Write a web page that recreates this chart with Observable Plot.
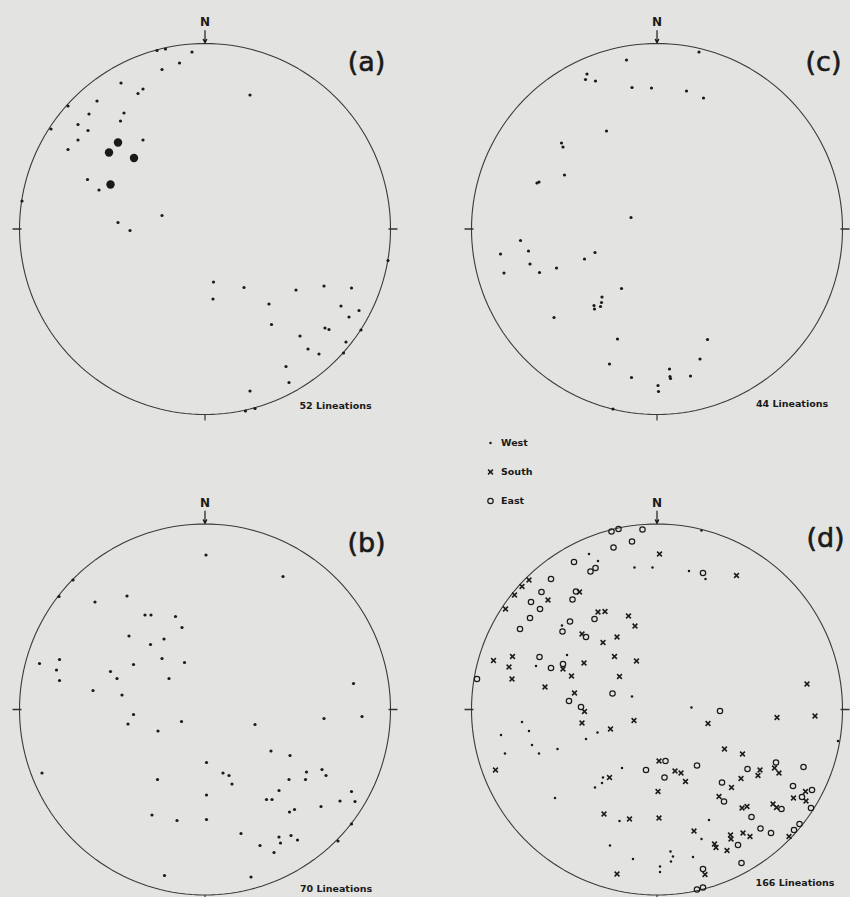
<!DOCTYPE html>
<html><head><meta charset="utf-8">
<script src="https://cdn.jsdelivr.net/npm/d3@7"></script>
<script src="https://cdn.jsdelivr.net/npm/@observablehq/plot@0.6"></script>
<style>html,body{margin:0;padding:0;background:#e3e3e1;overflow:hidden}svg{display:block}</style>
</head><body><div id="chart"></div><script>
// Stereonet coordinates: offsets from the net centre, primitive circle radius = 185.5 units
const NET_R = 185.5;

const panelLabels = ["(a)", "(b)", "(c)", "(d)"];
const lineationCounts = ["52 Lineations", "70 Lineations", "44 Lineations", "166 Lineations"];
const legendNames = ["West", "South", "East"];

// (a) 52 lineations: small points and large (multiple) points
const aPoints = [[-48,178.5],[-39.5,180],[-13,177],[-25.5,166],[-43,159.5],[45,134],[-84,146],[-62,140],[-67,135.5],[-108,128],[-137,123],[-116,115],[-81,116],[-84.5,108],[-127,104.5],[-154,100],[-117,98.5],[-127,89],[-62,89],[-137,79.5],[-117.5,49.5],[-106,39],[-43,13.5],[-87,6.5],[-75,-1.5],[-183,28],
[8.5,-53],[8,-70],[39,-58.5],[91,-61],[119,-57],[146.5,-59],[183,-31.5],[64,-75],[66.5,-95.5],[136,-77],[154,-81.5],[144,-88],[120,-99],[124,-100.5],[156,-101],[95,-107],[141,-113],[103,-120],[114,-125],[138.5,-124],[81,-137.5],[84,-153.5],[45,-162],[40.5,-182],[50,-179.5]];
const aBig = [[-87,86.5],[-96,76.5],[-71,71],[-94.5,44.5]];

// (b) 70 lineations
const bPoints = [[1,154.5],[78,133],[-132,129.5],[-146,113],[-110,107.5],[-78,113.5],[-60,94.5],[-54,94.5],[-29.5,93],[-23,82],[-76,73.5],[-41,70.5],[-54.5,65],[-43,51],[-20.5,47],[-71.5,45],[-165.5,46],[-145.5,50],[-148.5,39.5],[-145.5,29],[-94.5,38],[-88,31],[-36,31],[148.5,26],[-112,19],[-83,14.5],
[-71.5,-5],[-77,-14.5],[-47,-21.5],[-23.5,-12],[50,-15],[119,-9],[157,-7],[-163,-63.5],[-47.5,-70],[1.5,-53],[18,-63.5],[24,-66],[27,-74.5],[66,-41.5],[85,-46],[101.5,-62.5],[100.5,-70],[117,-60],[121,-66],[84,-70],[74,-81],[61.5,-90],[67,-90],[146.5,-82],[135,-91.5],[150,-92],[116,-97],[1.5,-85.5],[84.5,-102.5],[89.5,-100],[-53,-105.5],[-28,-111],[1.5,-110],[146.5,-114.5],[36,-124],[74,-127.5],[86,-126],[92.5,-130.5],[75.5,-133.5],[55,-136],[69,-143],[133,-131.5],[-40.5,-166],[46,-167.5]];

// (c) 44 lineations
const cPoints = [[42,177],[-30.5,169],[-70,155],[-71.5,149.5],[-61.5,148],[-25,141.5],[-5.5,141],[29.5,138],[46.5,131],[-50.5,98],[-95.5,86],[-94,82],[-92.5,54],[-120,46],[-118,47],[-26,11.5],[-136.5,-11.5],[-156.5,-25],[-128.5,-22],[-127,-35],[-153,-44],[-117.5,-43.5],[-100.5,-39],[-72.5,-30],[-62,-23.5],[-35.5,-59.5],[-55,-68],[-55.5,-73.5],[-63,-76.5],[-62.5,-80],[-56.5,-77.5],[-103,-88.5],[-39.5,-110],[50.5,-110.5],[43,-130],[-47.5,-135],[12.5,-140],[13,-147.5],[13.5,-149.5],[33.5,-147],[-25.5,-148.5],[1,-156.5],[1.5,-162.5],[-44,-180]];

// (d) 166 lineations by area
const dWest = [[-68,155.5],[-59,148.5],[-22.5,142],[-4.5,142],[44.5,179],[32,138.5],[48.5,130.5],[-95,84],[-121,43.5],[-90,54.5],[-25,13],[34.5,2],[-135,-12.5],[-128,-21.5],[-156,-25.5],[-125,-35.5],[-152,-44],[-118,-44],[-99.5,-39.5],[-59.5,-23],[-71,-29.5],[-102,-88.5],[-35,-58.5],[-54,-68],[-55,-73.5],[-62,-78],[-37.5,-111.5],[-47,-136],[-24,-149.5],[3,-157],[3,-162.5],[181,-31.5],[52,-110.5],[44.5,-129.5],[13.5,-142],[16,-147],[14,-152],[36,-147.5]];
const dSouth = [[2.5,155.5],[79.5,134],[-128,129.5],[-135,123],[-142.5,114.5],[-151.5,100.5],[-77.5,117.5],[-109,109.5],[-59,97.5],[-52,98],[-28.5,93.5],[-22,83.5],[-75,75.5],[-40,72.5],[-54,67],[-163.5,49],[-144.5,53],[-148,42.5],[-145,30.5],[-94,40.5],[-73,46.5],[-42.5,53],[-20.5,48.5],[-85.5,33.5],[-37.5,33],[-112,22.5],[-82.5,16.5],[-72.5,-2],[150,25.5],[120,-8],[158,-6.5],[-75,-13.5],[-46.5,-19.5],[-23,-11],[-161.5,-60.5],[-47.5,-68],[-53,-104.5],[-27.5,-109.5],[-40,-164.5],[51,-14],[67.5,-39.5],[85.5,-44.5],[2,-51.5],[18,-61.5],[24,-63.5],[28.5,-72],[103,-60.5],[101,-66],[84,-69],[117.5,-58.5],[122,-63.5],[74.5,-78],[1,-82],[136.5,-88.5],[149,-91.5],[148.5,-82],[62,-87],[85,-98.5],[90,-97],[116,-94.5],[119.5,-98],[2,-108.5],[132,-127],[37,-121.5],[73.5,-125.5],[74,-129.5],[86,-123.5],[93,-127],[57.5,-134.5],[59,-138],[70,-141],[48,-165]];
const dEast = [[-45.5,178],[-38.5,180.5],[-14.5,180],[-25,168],[-43.5,162],[-83,147.5],[-61.5,141.5],[-66.5,138],[-106,130.5],[-115.5,117.5],[-81,118],[-84.5,110],[-126,107.5],[-117,100.5],[-127,91.5],[-62.5,90.5],[-137,80.5],[-87,88],[-94.5,78],[-71,72.5],[-117.5,52.5],[-106,41.5],[-94,45.5],[-180,30.5],[-44.5,16],[-88,8.5],[-76,2.5],[46,136.5],[63,-1.5],[-11,-60.5],[8.5,-51.5],[7.5,-68],[40,-56],[90.5,-59.5],[119,-53],[146.5,-57.5],[65,-73],[136,-76.5],[145,-87.5],[155,-80.5],[67,-92],[124.5,-99.5],[154,-98.5],[94.5,-107.5],[103.5,-119],[114,-123.5],[137,-120.5],[142.5,-114.5],[81,-135.5],[84.5,-153.5],[46,-159.5],[40,-180],[46,-178]];

// ---- layout (not data) ----
const ink = "#1a1a1a";
const panels = [
  {id: "a", col: "L", row: "T", lx: 161.5, ly: 167, cx: 130.5, cy: -177},
  {id: "b", col: "L", row: "B", lx: 161.5, ly: 166.5, cx: 131, cy: -179.5},
  {id: "c", col: "R", row: "T", lx: 166.5, ly: 166.5, cx: 135, cy: -175},
  {id: "d", col: "R", row: "B", lx: 168.5, ly: 171, cx: 138, cy: -173}
];
panels.forEach((p, i) => { p.label = panelLabels[i]; p.count = lineationCounts[i]; });
const P = Object.fromEntries(panels.map(p => [p.id, p]));

const toRows = (arr, id) => arr.map(([x, y]) => ({x, y, col: P[id].col, row: P[id].row}));
const smallPts = [...toRows(aPoints, "a"), ...toRows(bPoints, "b"), ...toRows(cPoints, "c")];
const bigPts = toRows(aBig, "a");
const westPts = toRows(dWest, "d");
const southPts = toRows(dSouth, "d");
const eastPts = toRows(dEast, "d");

// primitive circle outline (geometry)
const outline = panels.flatMap(p => d3.range(0, 361, 2).map(a => ({
  id: p.id, col: p.col, row: p.row,
  x: NET_R * Math.cos(a * Math.PI / 180), y: NET_R * Math.sin(a * Math.PI / 180)
})));

const legendRows = legendNames.map((name, i) => ({name, i, col: "R", row: "T"}));
const fxy = {fx: "col", fy: "row"};
const legY = d => -214 - d.i * 29;

const plot = Plot.plot({
  width: 850, height: 897,
  marginLeft: 19, marginRight: 8, marginTop: 43, marginBottom: 2.5,
  style: {background: "#e3e3e1", fontFamily: "'DejaVu Sans', sans-serif", color: ink, overflow: "visible"},
  x: {domain: [-NET_R, NET_R], axis: null},
  y: {domain: [-NET_R, NET_R], axis: null},
  fx: {domain: ["L", "R"], paddingInner: 0.1792, paddingOuter: 0, round: false, axis: null},
  fy: {domain: ["T", "B"], paddingInner: 0.2279, paddingOuter: 0, round: false, axis: null},
  marks: [
    Plot.line(outline, {x: "x", y: "y", z: "id", ...fxy, stroke: "#3a3a3a", strokeWidth: 1.1}),
    // E, W, S ticks and N arrow
    Plot.link(panels, {x1: NET_R - 2, x2: NET_R + 7, y1: 0, y2: 0, ...fxy, stroke: "#333", strokeWidth: 1.5}),
    Plot.link(panels, {x1: -NET_R + 2, x2: -NET_R - 7, y1: 0, y2: 0, ...fxy, stroke: "#333", strokeWidth: 1.5}),
    Plot.link(panels, {x1: 0, x2: 0, y1: -NET_R, y2: -NET_R - 6, ...fxy, stroke: "#333", strokeWidth: 1.2}),
    Plot.arrow(panels, {x1: 0, x2: 0, y1: NET_R + 13, y2: NET_R + 0.5, ...fxy, stroke: ink, strokeWidth: 1.2, headLength: 5, headAngle: 50}),
    Plot.text(panels, {x: 0, y: NET_R + 21, text: () => "N", ...fxy, fontSize: 12, fontWeight: "bold", fill: ink}),
    // panel letters and counts
    Plot.text(panels, {x: "lx", y: "ly", text: "label", ...fxy, fontSize: 27, fill: ink, stroke: ink, strokeWidth: 0.6}),
    Plot.text(panels, {x: "cx", y: "cy", text: "count", ...fxy, fontSize: 9.5, fontWeight: "bold", fill: ink}),
    // data
    Plot.dot(smallPts, {x: "x", y: "y", ...fxy, r: 1.6, fill: ink}),
    Plot.dot(bigPts, {x: "x", y: "y", ...fxy, r: 4.2, fill: ink}),
    Plot.dot(westPts, {x: "x", y: "y", ...fxy, r: 1.25, fill: ink}),
    Plot.dot(southPts, {x: "x", y: "y", ...fxy, symbol: "times", r: 2.3, stroke: ink, strokeWidth: 1.5}),
    Plot.dot(eastPts, {x: "x", y: "y", ...fxy, symbol: "circle", r: 2.7, fill: "none", stroke: ink, strokeWidth: 1.2}),
    // legend (below panel c)
    Plot.dot(legendRows.filter(d => d.name === "West"), {x: -166.5, y: legY, ...fxy, r: 1.25, fill: ink}),
    Plot.dot(legendRows.filter(d => d.name === "South"), {x: -166.5, y: legY, ...fxy, symbol: "times", r: 2.3, stroke: ink, strokeWidth: 1.5}),
    Plot.dot(legendRows.filter(d => d.name === "East"), {x: -166.5, y: legY, ...fxy, symbol: "circle", r: 2.7, fill: "none", stroke: ink, strokeWidth: 1.2}),
    Plot.text(legendRows, {x: -156, y: legY, text: "name", ...fxy, textAnchor: "start", fontSize: 9.5, fontWeight: "bold", fill: ink})
  ]
});
document.getElementById("chart").append(plot);
</script></body></html>
